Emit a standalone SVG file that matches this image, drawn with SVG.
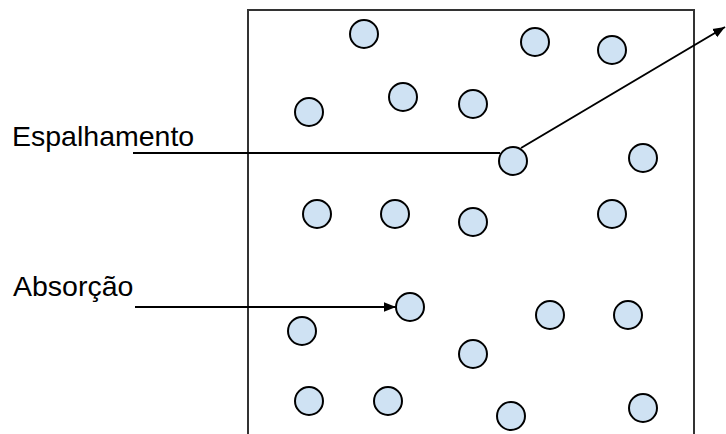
<svg xmlns="http://www.w3.org/2000/svg" width="726" height="434" viewBox="0 0 726 434">
<defs>
<style>
.p{fill:#cfe2f3;stroke:#000;stroke-width:2}
.c{fill:none;stroke:#000;stroke-width:2}
.t{font-family:"Liberation Sans",Arial,sans-serif;font-size:28.5px;fill:#000}
</style>
<marker id="ah2" viewBox="0 0 10 10" refX="10" refY="5" markerWidth="12" markerHeight="12" markerUnits="userSpaceOnUse" orient="auto">
<path d="M0,1 L10,5 L0,9 z" fill="#000"/>
</marker>
</defs>
<rect x="0" y="0" width="726" height="434" fill="#fff"/>
<g id="box"><path d="M248,440 L248,10 L694,10 L694,440" fill="none" stroke="#333" stroke-width="2"/></g>
<g id="particles">
<circle class="p" cx="364" cy="34" r="14"/>
<circle class="p" cx="535" cy="42" r="14"/>
<circle class="p" cx="612" cy="50" r="14"/>
<circle class="p" cx="309" cy="112" r="14"/>
<circle class="p" cx="403" cy="97" r="14"/>
<circle class="p" cx="473" cy="104" r="14"/>
<circle class="p" cx="643" cy="158" r="14"/>
<circle class="p" cx="317" cy="214" r="14"/>
<circle class="p" cx="395" cy="214" r="14"/>
<circle class="p" cx="473" cy="222" r="14"/>
<circle class="p" cx="612" cy="214" r="14"/>
<circle class="p" cx="302" cy="331" r="14"/>
<circle class="p" cx="550" cy="315" r="14"/>
<circle class="p" cx="628" cy="315" r="14"/>
<circle class="p" cx="473" cy="354" r="14"/>
<circle class="p" cx="309" cy="401" r="14"/>
<circle class="p" cx="388" cy="401" r="14"/>
<circle class="p" cx="511" cy="416" r="14"/>
<circle class="p" cx="643" cy="408" r="14"/>
</g>
<g id="connectors">
<path class="c" d="M133,153 L500,153"/>
<path class="c" d="M521,148 L725,27" marker-end="url(#ah2)"/>
<path class="c" d="M135,307 L396,307" marker-end="url(#ah2)"/>
</g>
<g id="scatter-particle"><circle class="p" cx="513" cy="161" r="14"/></g>
<g id="absorb-particle"><circle class="p" cx="410" cy="307" r="14"/></g>
<g id="label-espalhamento"><text class="t" x="12" y="146">Espalhamento</text></g>
<g id="label-absorcao"><text class="t" x="13" y="296">Absorção</text></g>
</svg>
